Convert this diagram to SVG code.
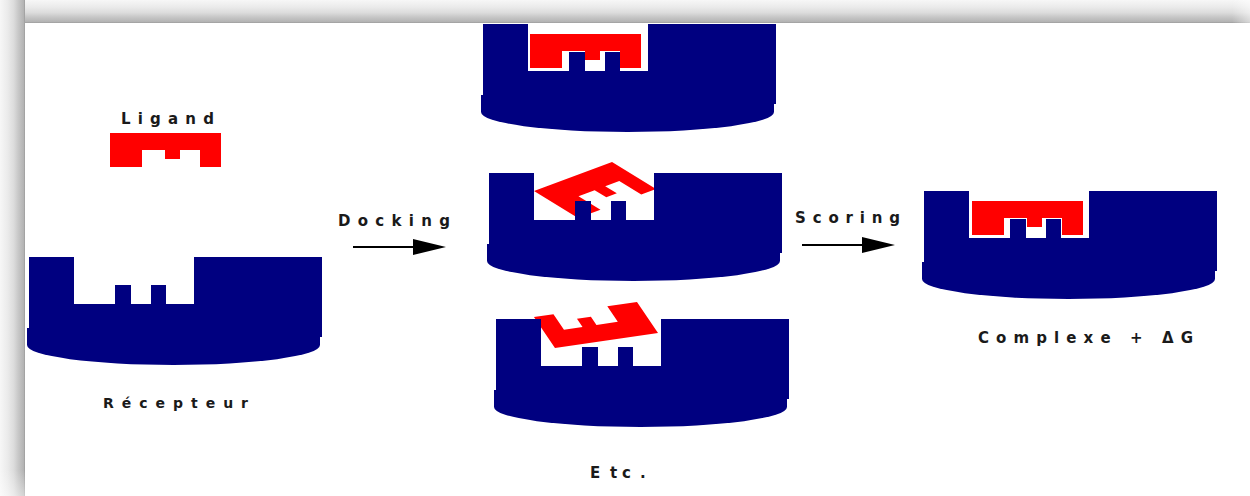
<svg xmlns="http://www.w3.org/2000/svg" xmlns:xlink="http://www.w3.org/1999/xlink" width="1250" height="496" viewBox="0 0 1250 496">
  <style>
    .rec { fill: #000080; }
    .lig { fill: #ff0000; }
    .lbl { font-family: "DejaVu Sans", "Liberation Sans", sans-serif; font-weight: bold; font-size: 15px; fill: #1a1a1a; }
    .small { font-size: 14px; }
    .conn { stroke: #000; stroke-width: 2; fill: none; }
  </style>
  <defs>
    <!-- receptor: block with a pocket and two teeth, plus its rounded base -->
    <g id="receptor">
      <path class="rec" d="M0,0 H45 V47 H86 V28 H102 V47 H122 V28 H137 V47 H165 V0 H293 V80 H0 Z"/>
      <path class="rec" d="M-2,71 H291 V88 A146.5,20 0 0 1 -2,88 Z"/>
    </g>
    <!-- ligand: bar with two legs and a short middle tooth -->
    <path id="ligand" class="lig" d="M0,0 H111 V34 H90 V17 H70 V26 H55 V17 H32 V34 H0 Z"/>
    <marker id="head" viewBox="0 0 33 16" markerWidth="33" markerHeight="16" refX="0" refY="8" orient="auto" markerUnits="userSpaceOnUse">
      <path d="M0,0 L33,8 L0,16 Z" fill="#000"/>
    </marker>
    <linearGradient id="bandTop" x1="0" y1="0" x2="0" y2="1">
      <stop offset="0" stop-color="#f7f7f7"/>
      <stop offset="0.3" stop-color="#ebebeb"/>
      <stop offset="0.55" stop-color="#dcdcdc"/>
      <stop offset="0.75" stop-color="#c6c6c6"/>
      <stop offset="0.95" stop-color="#b3b3b3"/>
      <stop offset="1" stop-color="#999"/>
    </linearGradient>
    <linearGradient id="bandLeft" x1="0" y1="0" x2="1" y2="0">
      <stop offset="0" stop-color="#f7f7f7"/>
      <stop offset="0.3" stop-color="#ebebeb"/>
      <stop offset="0.55" stop-color="#dcdcdc"/>
      <stop offset="0.75" stop-color="#c6c6c6"/>
      <stop offset="0.95" stop-color="#b3b3b3"/>
      <stop offset="1" stop-color="#999"/>
    </linearGradient>
    <linearGradient id="fadeRight" x1="0" y1="0" x2="1" y2="0">
      <stop offset="0" stop-color="#fff" stop-opacity="0"/>
      <stop offset="1" stop-color="#fff" stop-opacity="0.5"/>
    </linearGradient>
    <linearGradient id="fadeBottom" x1="0" y1="0" x2="0" y2="1">
      <stop offset="0" stop-color="#fff" stop-opacity="0"/>
      <stop offset="1" stop-color="#fff" stop-opacity="0.45"/>
    </linearGradient>
  </defs>

  <rect width="1250" height="496" fill="#fff"/>

  <!-- free ligand -->
  <g id="node-ligand">
    <use xlink:href="#ligand" transform="translate(110,133)"/>
    <text class="lbl" x="121" y="124" textLength="93" lengthAdjust="spacing">Ligand</text>
  </g>

  <!-- free receptor -->
  <g id="node-receptor">
    <use xlink:href="#receptor" transform="translate(29,257)"/>
    <text class="lbl small" x="103" y="408" textLength="145" lengthAdjust="spacing">Récepteur</text>
  </g>

  <!-- docking pose: upright in the pocket -->
  <g id="node-pose-top">
    <use xlink:href="#ligand" transform="translate(530,34)"/>
    <use xlink:href="#receptor" transform="translate(483,24)"/>
  </g>

  <!-- docking pose: tilted, legs down -->
  <g id="node-pose-mid">
    <use xlink:href="#ligand" transform="matrix(0.703,-0.261,1.294,0.794,534,191)"/>
    <use xlink:href="#receptor" transform="translate(489,173)"/>
  </g>

  <!-- docking pose: flipped, legs up -->
  <g id="node-pose-low">
    <use xlink:href="#ligand" transform="matrix(-0.928,0.135,-0.618,-0.912,658,333)"/>
    <use xlink:href="#receptor" transform="translate(496,319)"/>
    <text class="lbl" x="590 610 622 640" y="478">Etc.</text>
  </g>

  <!-- best-scored complex -->
  <g id="node-complex">
    <use xlink:href="#ligand" transform="translate(972,201)"/>
    <use xlink:href="#receptor" transform="translate(924,191)"/>
    <text class="lbl" x="978" y="343" textLength="215" lengthAdjust="spacing">Complexe + ΔG</text>
  </g>

  <!-- connectors -->
  <g id="connectors">
    <line class="conn" x1="353" y1="247" x2="413" y2="247" marker-end="url(#head)"/>
    <text class="lbl" x="338" y="226" textLength="112" lengthAdjust="spacing">Docking</text>
    <line class="conn" x1="802" y1="245" x2="862" y2="245" marker-end="url(#head)"/>
    <text class="lbl" x="795" y="223" textLength="105" lengthAdjust="spacing">Scoring</text>
  </g>

  <!-- page shadow along the top and left edges -->
  <g id="frame">
    <rect x="0" y="0" width="1250" height="23" fill="url(#bandTop)"/>
    <rect x="0" y="0" width="25" height="496" fill="url(#bandLeft)"/>
    <rect x="1232" y="0" width="18" height="23" fill="url(#fadeRight)"/>
    <rect x="0" y="470" width="25" height="26" fill="url(#fadeBottom)"/>
  </g>
</svg>
